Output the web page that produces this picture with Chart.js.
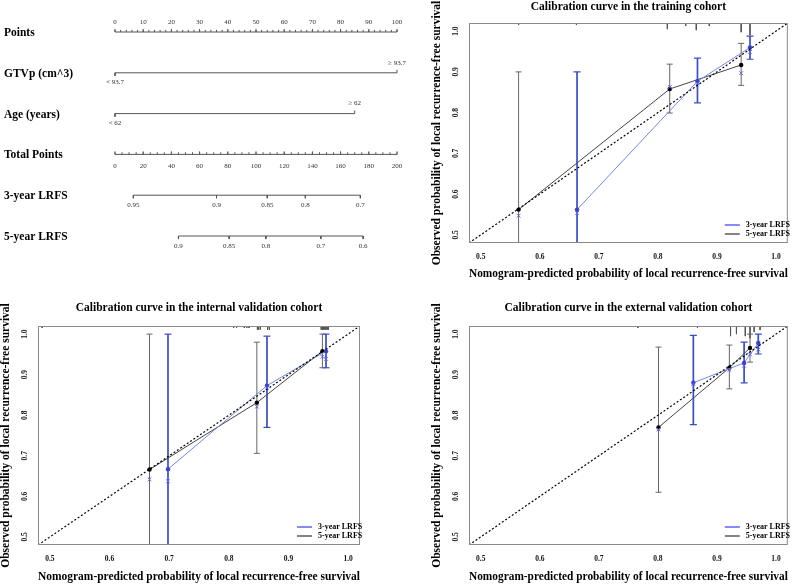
<!DOCTYPE html>
<html>
<head>
<meta charset="utf-8">
<script src="https://cdn.jsdelivr.net/npm/chart.js@4.4.1/dist/chart.umd.min.js"></script>
<style>
  body { margin: 0; background: #fff; }
  #wrap { position: relative; width: 793px; height: 584px; overflow: hidden; }
  canvas { position: absolute; }
</style>
</head>
<body>
<div id="wrap">
  <canvas id="nomo" width="420" height="290" style="left:0;top:0"></canvas>
  <canvas id="train" width="398" height="290" style="left:395px;top:0"></canvas>
  <canvas id="intl" width="395" height="294" style="left:0;top:290px"></canvas>
  <canvas id="ext" width="398" height="294" style="left:395px;top:290px"></canvas>
</div>
<script>
const SERIF = '"Liberation Serif", "Times New Roman", serif';

// ---- nomogram ----
const rowNames = ["Points", "GTVp (cm^3)", "Age (years)", "Total Points", "3-year LRFS", "5-year LRFS"];
const pointsTicks = [0, 10, 20, 30, 40, 50, 60, 70, 80, 90, 100];
const gtvLabels = ["< 93.7", "\u2265 93.7"];
const gtvPoints = [0, 100];
const ageLabels = ["< 62", "\u2265 62"];
const agePoints = [0, 85];
const totalTicks = [0, 20, 40, 60, 80, 100, 120, 140, 160, 180, 200];
const lrfs3Labels = ["0.95", "0.9", "0.85", "0.8", "0.7"];
const lrfs3Total = [13, 72, 108, 135, 174];
const lrfs5Labels = ["0.9", "0.85", "0.8", "0.7", "0.6"];
const lrfs5Total = [45, 81, 107, 146, 176];

// ---- calibration curves ----
const axisMin = 0.48, axisMax = 1.02;
const axisTicks = [0.5, 0.6, 0.7, 0.8, 0.9, 1.0];
const legendLabels = ["3-year LRFS", "5-year LRFS"];
const xTitle = "Nomogram-predicted probability of local recurrence-free survival";
const yTitle = "Observed probability of local recurrence-free survival";

// training cohort
const train3x = [0.663, 0.867, 0.956];
const train3y = [0.562, 0.877, 0.960];
const train3lo = [0.44, 0.824, 0.931];
const train3hi = [0.900, 0.934, 0.988];
const train3bc = [0.554, 0.872, 0.949];
const train5x = [0.564, 0.820, 0.941];
const train5y = [0.562, 0.858, 0.917];
const train5lo = [0.44, 0.799, 0.867];
const train5hi = [0.900, 0.919, 0.970];
const train5bc = [0.547, 0.863, 0.897];
const trainRug = [0.564, 0.662, 0.816, 0.847, 0.865, 0.887, 0.941, 0.956];
const trainRugN = [1, 1, 3, 1.5, 3.5, 1.5, 4.5, 6];

// internal validation cohort
const int3x = [0.698, 0.864, 0.963];
const int3y = [0.667, 0.873, 0.958];
const int3lo = [0.44, 0.770, 0.917];
const int3hi = [1.0, 0.995, 1.0];
const int3bc = [0.637, 0.868, 0.939];
const int5x = [0.667, 0.847, 0.957];
const int5y = [0.666, 0.831, 0.958];
const int5lo = [0.44, 0.706, 0.917];
const int5hi = [1.0, 0.980, 1.0];
const int5bc = [0.642, 0.821, 0.944];
const intRug = [0.487, 0.808, 0.813, 0.826, 0.830, 0.834, 0.848, 0.850, 0.853, 0.865, 0.868,
                0.955, 0.957, 0.959, 0.961, 0.963, 0.965, 0.967];
const intRugN = [1, 1, 1, 1, 1, 1, 1.8, 1.8, 1.8, 1.8, 1.8, 1.8, 1.8, 1.8, 1.8, 1.8, 1.8, 1.8];

// external validation cohort
const ext3x = [0.860, 0.946, 0.970];
const ext3y = [0.880, 0.929, 0.978];
const ext3lo = [0.777, 0.880, 0.951];
const ext3hi = [0.997, 0.980, 1.0];
const ext3bc = [0.877, 0.922, 0.962];
const ext5x = [0.801, 0.921, 0.956];
const ext5y = [0.770, 0.917, 0.966];
const ext5lo = [0.610, 0.865, 0.931];
const ext5hi = [0.968, 0.973, 1.0];
const ext5bc = [0.765, 0.912, 0.950];
const extRug = [0.766, 0.867, 0.923, 0.933, 0.948, 0.956, 0.963, 0.973];
const extRugN = [1, 1, 5, 4, 5, 6, 3, 2];

// ---------- nomogram chart ----------
const TICK = 0.075; // ~3px in row units

function ticksAt(xs, row, dy) {
  const out = [];
  xs.forEach(v => out.push({x: v, y: row}, {x: v, y: row + dy}, {x: v, y: null}));
  return out;
}
function nomoLine(data, axis) {
  return {data, xAxisID: axis || 'x', showLine: true, borderColor: '#555', borderWidth: 1,
          pointRadius: 0, clip: false, spanGaps: false};
}

const pointsMinor = [];
for (let v = 0; v <= 100; v += 2) pointsMinor.push(v);
const totalMinor = [];
for (let v = 0; v <= 200; v += 5) totalMinor.push(v);

const nomoText = {
  id: 'nomoText',
  afterDatasetsDraw(chart) {
    const {ctx} = chart;
    const x = chart.scales.x, xt = chart.scales.xt, y = chart.scales.y;
    ctx.save();
    ctx.textBaseline = 'middle';
    ctx.fillStyle = '#000';
    ctx.textAlign = 'left';
    ctx.font = 'bold 11.5px ' + SERIF;
    rowNames.forEach((n, i) => ctx.fillText(n, 4, y.getPixelForValue(i) + 1));
    ctx.font = '7px ' + SERIF;
    ctx.fillStyle = '#333';
    ctx.textAlign = 'center';
    pointsTicks.forEach(v => ctx.fillText(String(v), x.getPixelForValue(v), y.getPixelForValue(0) - 10));
    ctx.fillText(gtvLabels[0], x.getPixelForValue(gtvPoints[0]), y.getPixelForValue(1) + 9);
    ctx.fillText(gtvLabels[1], x.getPixelForValue(gtvPoints[1]), y.getPixelForValue(1) - 10);
    ctx.fillText(ageLabels[0], x.getPixelForValue(agePoints[0]), y.getPixelForValue(2) + 10);
    ctx.fillText(ageLabels[1], x.getPixelForValue(agePoints[1]), y.getPixelForValue(2) - 10);
    totalTicks.forEach(v => ctx.fillText(String(v), xt.getPixelForValue(v), y.getPixelForValue(3) + 12));
    lrfs3Labels.forEach((t, i) => ctx.fillText(t, xt.getPixelForValue(lrfs3Total[i]), y.getPixelForValue(4) + 10));
    lrfs5Labels.forEach((t, i) => ctx.fillText(t, xt.getPixelForValue(lrfs5Total[i]), y.getPixelForValue(5) + 10));
    ctx.restore();
  }
};

new Chart(document.getElementById('nomo'), {
  type: 'scatter',
  data: {
    datasets: [
      nomoLine([{x: 0, y: 0}, {x: 100, y: 0}]),
      nomoLine(ticksAt(pointsMinor, 0, -TICK * 0.7)),
      nomoLine(ticksAt(pointsTicks, 0, -TICK)),
      nomoLine([{x: gtvPoints[0], y: 1}, {x: gtvPoints[1], y: 1}]),
      nomoLine(ticksAt([gtvPoints[0]], 1, TICK).concat(ticksAt([gtvPoints[1]], 1, -TICK))),
      nomoLine([{x: agePoints[0], y: 2}, {x: agePoints[1], y: 2}]),
      nomoLine(ticksAt([agePoints[0]], 2, TICK).concat(ticksAt([agePoints[1]], 2, -TICK))),
      nomoLine([{x: 0, y: 3}, {x: 200, y: 3}], 'xt'),
      nomoLine(ticksAt(totalMinor, 3, -TICK * 0.7), 'xt'),
      nomoLine(ticksAt(totalTicks, 3, -TICK), 'xt'),
      nomoLine([{x: lrfs3Total[0], y: 4}, {x: lrfs3Total[lrfs3Total.length - 1], y: 4}], 'xt'),
      nomoLine(ticksAt(lrfs3Total, 4, TICK), 'xt'),
      nomoLine([{x: lrfs5Total[0], y: 5}, {x: lrfs5Total[lrfs5Total.length - 1], y: 5}], 'xt'),
      nomoLine(ticksAt(lrfs5Total, 5, TICK), 'xt')
    ]
  },
  options: {
    responsive: false,
    animation: false,
    layout: {padding: {left: 115, right: 23, top: 32, bottom: 54}},
    plugins: {legend: {display: false}, tooltip: {enabled: false}},
    scales: {
      x: {type: 'linear', min: 0, max: 100, display: false},
      xt: {type: 'linear', axis: 'x', min: 0, max: 200, display: false},
      y: {type: 'linear', min: 0, max: 5, reverse: true, display: false}
    }
  },
  plugins: [nomoText]
});

// ---------- calibration charts ----------
const calDecor = {
  id: 'calDecor',
  afterDraw(chart) {
    const {ctx, chartArea: a} = chart;
    ctx.save();
    ctx.strokeStyle = '#8a8a8a';
    ctx.lineWidth = 1;
    ctx.strokeRect(a.left + 0.5, a.top + 0.5, a.right - a.left - 1, a.bottom - a.top - 1);
    // legend
    const cols = ['#3a3af0', '#333333'];
    ctx.font = 'bold 8px ' + SERIF;
    ctx.textBaseline = 'middle';
    ctx.textAlign = 'left';
    ctx.fillStyle = '#000';
    legendLabels.forEach((t, i) => {
      const yy = a.bottom - 18 + i * 9;
      ctx.strokeStyle = cols[i];
      ctx.lineWidth = 1.2;
      ctx.beginPath();
      ctx.moveTo(a.right - 63, yy);
      ctx.lineTo(a.right - 48, yy);
      ctx.stroke();
      ctx.fillText(t, a.right - 42, yy);
    });
    // y axis title
    ctx.translate(a.left - 32, (a.top + a.bottom) / 2);
    ctx.rotate(-Math.PI / 2);
    ctx.textAlign = 'center';
    ctx.font = 'bold 11.5px ' + SERIF;
    ctx.fillText(yTitle, 0, 0);
    ctx.restore();
  }
};

function pts(xs, ys) { return xs.map((v, i) => ({x: v, y: ys[i]})); }
function bars(xs, lo, hi) {
  const out = [];
  xs.forEach((v, i) => out.push({x: v, y: lo[i]}, {x: v, y: hi[i]}, {x: v, y: null}));
  return out;
}
function rugs(xs, n) {
  const out = [];
  xs.forEach((v, i) => out.push({x: v, y: axisMax}, {x: v, y: axisMax - n[i] * 0.005}, {x: v, y: null}));
  return out;
}

function calChart(id, title, s3, s5, rug, rugN, geo) {
  const font = (size, w) => ({family: SERIF, size, weight: w || 'bold'});
  return new Chart(document.getElementById(id), {
    type: 'scatter',
    data: {
      datasets: [
        {data: rugs(rug, rugN), showLine: true, borderColor: '#555', borderWidth: 1, pointRadius: 0, order: 9},
        {data: bars(s5[0], s5[2], s5[3]), showLine: true, borderColor: '#666', borderWidth: 1,
         pointStyle: 'line', pointRadius: 3, pointBorderColor: '#666', pointBorderWidth: 1, order: 8},
        {data: bars(s3[0], s3[2], s3[3]), showLine: true, borderColor: '#3a4dc4', borderWidth: 1.7,
         pointStyle: 'line', pointRadius: 3.5, pointBorderColor: '#3a4dc4', pointBorderWidth: 1.2, order: 7},
        {data: pts(s5[0], s5[1]), showLine: true, borderColor: '#444', borderWidth: 1,
         pointRadius: 2.2, pointBackgroundColor: '#000', pointBorderWidth: 0, order: 6},
        {data: pts(s3[0], s3[1]), showLine: true, borderColor: '#7686e6', borderWidth: 1,
         pointRadius: 2.2, pointBackgroundColor: '#3344cc', pointBorderWidth: 0, order: 5},
        {data: [{x: axisMin, y: axisMin}, {x: axisMax, y: axisMax}], showLine: true, borderColor: '#000',
         borderWidth: 1.2, borderDash: [2, 2], pointRadius: 0, order: 4},
        {data: pts(s5[0], s5[4]), pointStyle: 'crossRot', pointRadius: 2.6, borderColor: '#6a5de8',
         pointBorderColor: '#6a5de8', pointBorderWidth: 1, order: 3},
        {data: pts(s3[0], s3[4]), pointStyle: 'crossRot', pointRadius: 2.6, borderColor: '#6a5de8',
         pointBorderColor: '#6a5de8', pointBorderWidth: 1, order: 2}
      ]
    },
    options: {
      responsive: false,
      animation: false,
      layout: {padding: {left: 0, right: geo.pr, top: 0, bottom: 0}},
      plugins: {
        legend: {display: false},
        tooltip: {enabled: false},
        title: {display: true, text: title, fullSize: false, align: 'center', color: '#000',
                font: font(11.5), padding: {top: geo.tpt, bottom: geo.tpb}}
      },
      scales: {
        x: {
          type: 'linear', min: axisMin, max: axisMax,
          afterBuildTicks: s => { s.ticks = axisTicks.map(v => ({value: v})); },
          afterFit: s => { s.height = geo.xh; },
          grid: {display: false, drawTicks: false},
          border: {display: false},
          ticks: {autoSkip: false, maxRotation: 0, padding: 10, color: '#111', font: font(7.5),
                  callback: v => v.toFixed(1)},
          title: {display: true, text: xTitle, color: '#000', font: font(11.5),
                  padding: {top: 0, bottom: geo.xtp}}
        },
        y: {
          type: 'linear', min: axisMin, max: axisMax,
          afterBuildTicks: s => { s.ticks = axisTicks.map(v => ({value: v})); },
          afterFit: s => { s.width = geo.yw; },
          grid: {display: false, drawTicks: false},
          border: {display: false},
          ticks: {autoSkip: false, minRotation: 90, maxRotation: 90, crossAlign: 'center', padding: 8,
                  color: '#111', font: font(7.5), callback: v => v.toFixed(1)}
        }
      }
    },
    plugins: [calDecor]
  });
}

calChart('train', 'Calibration curve in the training cohort',
  [train3x, train3y, train3lo, train3hi, train3bc],
  [train5x, train5y, train5lo, train5hi, train5bc],
  trainRug, trainRugN,
  {pr: 1, yw: 74, xh: 47, xtp: 9.4, tpt: 0, tpb: 9.2});

calChart('intl', 'Calibration curve in the internal validation cohort',
  [int3x, int3y, int3lo, int3hi, int3bc],
  [int5x, int5y, int5lo, int5hi, int5bc],
  intRug, intRugN,
  {pr: 35, yw: 38, xh: 39, xtp: 0.4, tpt: 11.4, tpb: 10.8});

calChart('ext', 'Calibration curve in the external validation cohort',
  [ext3x, ext3y, ext3lo, ext3hi, ext3bc],
  [ext5x, ext5y, ext5lo, ext5hi, ext5bc],
  extRug, extRugN,
  {pr: 1, yw: 74, xh: 39, xtp: 0.4, tpt: 11.4, tpb: 10.8});
</script>
</body>
</html>
